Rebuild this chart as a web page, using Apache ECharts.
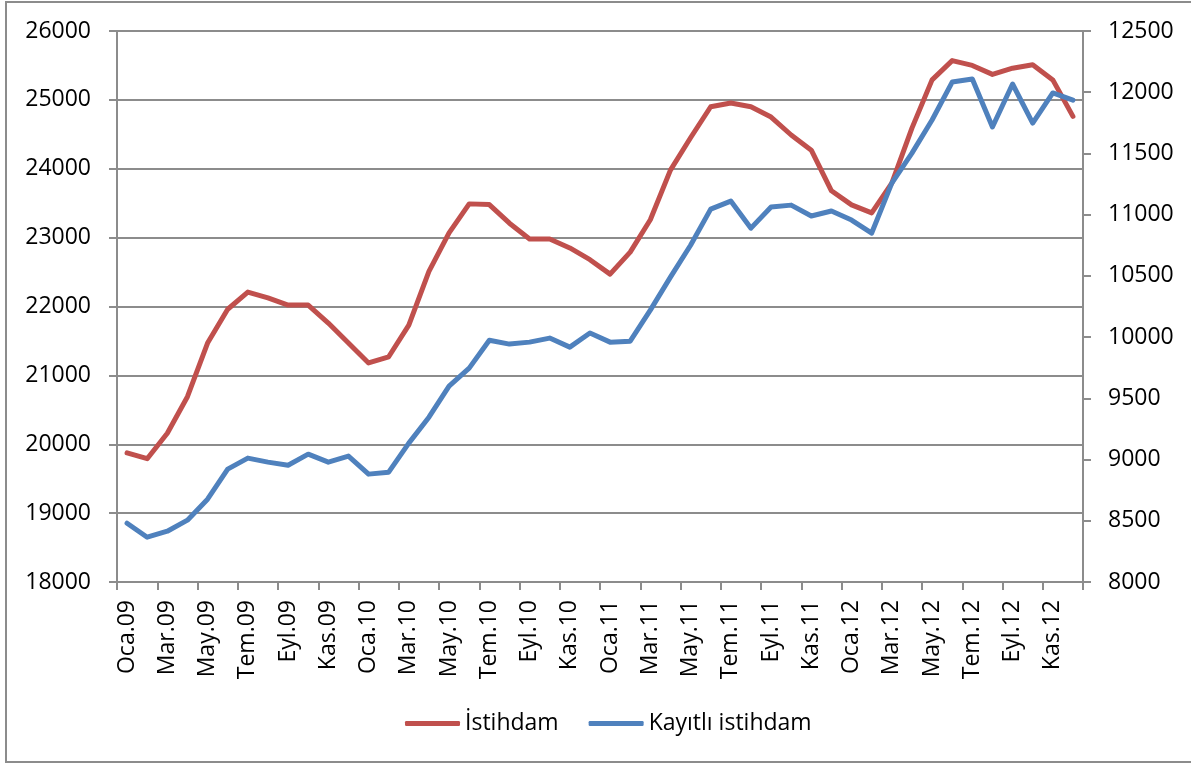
<!DOCTYPE html>
<html>
<head>
<meta charset="utf-8">
<title>İstihdam</title>
<script src="https://cdn.jsdelivr.net/npm/echarts@6/dist/echarts.min.js"></script>
<style>
  html, body { margin: 0; padding: 0; background: #fff; }
  #chart { width: 1191px; height: 764px; }
</style>
</head>
<body>
<div id="chart"></div>
<script>
  // aylar: Oca.09 - Ara.12
  var monthNames = ['Oca', 'Şub', 'Mar', 'Nis', 'May', 'Haz', 'Tem', 'Ağu', 'Eyl', 'Eki', 'Kas', 'Ara'];
  var years = ['09', '10', '11', '12'];
  var categories = [];
  years.forEach(function (y) {
    monthNames.forEach(function (m) {
      categories.push(m + '.' + y);
    });
  });

  // İstihdam (sol eksen, bin kişi)
  var istihdam = [
    19875, 19790, 20160, 20690, 21470, 21960, 22210, 22125, 22020, 22020, 21760, 21470,
    21180, 21270, 21730, 22510, 23070, 23490, 23480, 23210, 22980, 22980, 22850, 22680,
    22470, 22790, 23260, 23980, 24450, 24900, 24955, 24900, 24750, 24490, 24270, 23680,
    23475, 23360, 23790, 24590, 25290, 25570, 25500, 25370, 25460, 25510, 25290, 24760
  ];

  // Kayıtlı istihdam (sağ eksen, bin kişi)
  var kayitli = [
    8480, 8366, 8415, 8505, 8676, 8922, 9012, 8979, 8954, 9044, 8979, 9028,
    8881, 8897, 9134, 9346, 9600, 9747, 9975, 9943, 9959, 9992, 9918, 10033,
    9959, 9967, 10220, 10490, 10750, 11045, 11111, 10890, 11062, 11078, 10989, 11030,
    10956, 10850, 11258, 11503, 11773, 12083, 12108, 11716, 12067, 11748, 11994, 11936
  ];

  var seriesNames = ['İstihdam', 'Kayıtlı istihdam'];

  var myChart = echarts.init(document.getElementById('chart'));
  var gray = '#8c8c8c';
  var fontFamily = '"Open Sans", "Liberation Sans", sans-serif';

  // binlik ayırıcı olmadan yaz
  function plainNumber(v) {
    return String(v);
  }

  var option = {
    backgroundColor: '#fff',
    animation: false,
    textStyle: { fontFamily: fontFamily },
    // dış çerçeve
    graphic: [{
      type: 'rect',
      shape: { x: 6, y: 2, width: 1200, height: 760 },
      style: { fill: 'none', stroke: '#8c8c8c', lineWidth: 2 },
      silent: true
    }],
    legend: {
      data: seriesNames,
      left: 400,
      top: 707,
      icon: 'roundRect',
      itemWidth: 55,
      itemHeight: 5,
      itemGap: 30,
      textStyle: { color: '#000', fontSize: 23, fontFamily: fontFamily }
    },
    grid: {
      left: 117,
      right: 108,
      top: 31,
      bottom: 182,
      containLabel: false
    },
    xAxis: [{
      type: 'category',
      data: categories,
      boundaryGap: true,
      axisLine: { lineStyle: { color: gray, width: 2 } },
      axisTick: { show: true, interval: 1, length: 8, lineStyle: { color: gray, width: 2 } },
      axisLabel: {
        interval: 1,
        rotate: 90,
        margin: 18,
        color: '#000',
        fontSize: 23,
        fontFamily: fontFamily
      },
      splitLine: { show: false }
    }],
    yAxis: [
      {
        type: 'value',
        min: 18000,
        max: 26000,
        interval: 1000,
        position: 'left',
        axisLine: { show: true, lineStyle: { color: gray, width: 2 } },
        axisTick: { show: true, length: 8, lineStyle: { color: gray, width: 2 } },
        axisLabel: { margin: 26, color: '#000', fontSize: 23, fontFamily: fontFamily, formatter: plainNumber },
        splitLine: { show: true, lineStyle: { color: gray, width: 2 } }
      },
      {
        type: 'value',
        min: 8000,
        max: 12500,
        interval: 500,
        position: 'right',
        axisLine: { show: true, lineStyle: { color: gray, width: 2 } },
        axisTick: { show: true, length: 8, lineStyle: { color: gray, width: 2 } },
        axisLabel: { margin: 25, color: '#000', fontSize: 23, fontFamily: fontFamily, formatter: plainNumber },
        splitLine: { show: false }
      }
    ],
    series: [
      {
        name: seriesNames[0],
        type: 'line',
        yAxisIndex: 0,
        data: istihdam,
        symbol: 'none',
        color: '#c0504d',
        lineStyle: { color: '#c0504d', width: 5, join: 'round', cap: 'round' },
        z: 3
      },
      {
        name: seriesNames[1],
        type: 'line',
        yAxisIndex: 1,
        data: kayitli,
        symbol: 'none',
        color: '#4f81bd',
        lineStyle: { color: '#4f81bd', width: 5, join: 'round', cap: 'round' },
        z: 4
      }
    ]
  };
  myChart.setOption(option, true);
</script>
</body>
</html>
